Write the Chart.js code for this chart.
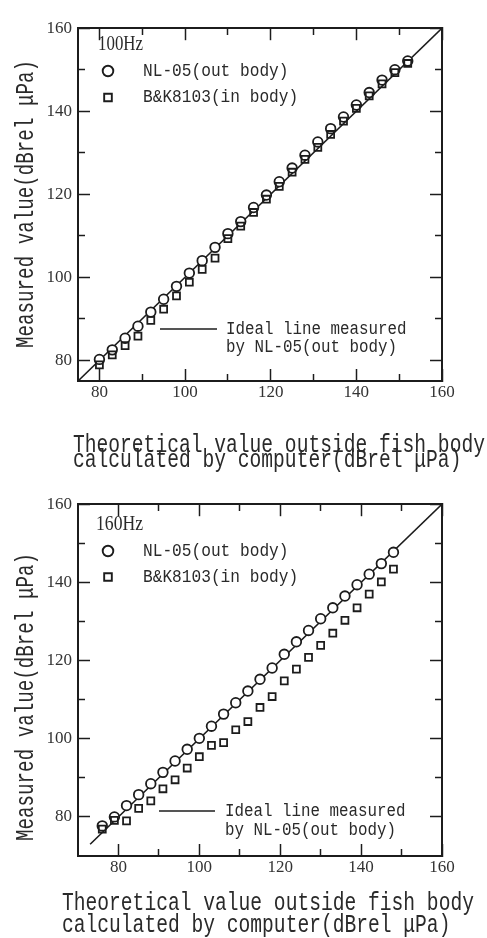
<!DOCTYPE html>
<html><head><meta charset="utf-8">
<script src="https://cdn.jsdelivr.net/npm/chart.js@4/dist/chart.umd.min.js"></script>
<style>
html,body{margin:0;padding:0;background:#fff;}
body{width:487px;height:938px;position:relative;overflow:hidden;}
canvas{position:absolute;left:0;display:block;}
#cA{top:0;}
#cB{top:476px;}
</style></head><body>
<canvas id="cA" width="487" height="476"></canvas>
<canvas id="cB" width="487" height="462"></canvas>
<script>
// ---------------- data ----------------
const xValues100 = [80,83,86,89,92,95,98,101,104,107,110,113,116,119,122,125,128,131,134,137,140,143,146,149,152];
const nl05_100   = [80.2,82.5,85.3,88.2,91.6,94.7,97.8,101.0,104.0,107.2,110.5,113.4,116.8,119.8,123.0,126.3,129.4,132.6,135.8,138.6,141.5,144.5,147.5,150.0,152.1];
const bk8103_100 = [78.9,81.3,83.5,85.8,89.6,92.3,95.5,98.8,101.9,104.6,109.3,112.3,115.6,118.8,121.9,125.3,128.4,131.3,134.4,137.6,140.7,143.7,146.6,149.3,151.5];

const xValues160 = [76,79,82,85,88,91,94,97,100,103,106,109,112,115,118,121,124,127,130,133,136,139,142,145,148];
const nl05_160   = [77.7,80.0,82.9,85.7,88.5,91.4,94.3,97.3,100.1,103.2,106.3,109.2,112.2,115.2,118.1,121.6,124.8,127.7,130.7,133.5,136.5,139.4,142.1,144.8,147.7];
const bk8103_160 = [76.9,79.1,79.0,82.2,84.1,87.2,89.5,92.5,95.4,98.3,99.0,102.3,104.4,108.0,110.8,114.8,117.8,120.8,123.9,127.0,130.3,133.5,137.0,140.1,143.4];

const idealEnds100 = [75,160];
const idealEnds160 = [73,160];
const range100 = [75,160];
const range160 = [70,160];
const majorTicks = [80,100,120,140,160];
const minorTicks = [90,110,130,150];

const seriesNames = ['NL-05(out body)','B&K8103(in body)'];
const idealName = 'Ideal line';
const idealLegendLines = ['Ideal line measured','by NL-05(out body)'];
const xTitleLines = ['Theoretical value outside fish body','calculated by computer(dBrel μPa)'];
const yTitleText = 'Measured value(dBrel μPa)';
const freqLabels = ['100Hz','160Hz'];

// ---------------- styles ----------------
const MONO = '"Liberation Mono","DejaVu Sans Mono",monospace';
const SERIF = '"Liberation Serif","DejaVu Serif",serif';
const INK = '#1c1c1c';
const TEXT_INK = '#2a2a2a';

function squeeze(ctx, text, x, y, size, family, adv){
  ctx.font = size + 'px ' + family;
  ctx.fillText(text, x, y, adv * Array.from(text).length);
}

const figTextPlugin = {
  id: 'figText',
  afterDraw(chart, args, o){
    const ctx = chart.ctx;
    ctx.save();
    ctx.fillStyle = TEXT_INK; ctx.strokeStyle = INK; ctx.textAlign = 'left';
    // frequency label
    ctx.textBaseline = 'middle';
    ctx.font = o.freq.size + 'px ' + SERIF;
    ctx.fillText(o.freq.text, o.freq.x, o.freq.y, o.freq.w);
    // series legend entries
    o.entries.forEach((e, i) => {
      const ds = chart.data.datasets[i];
      ctx.fillStyle = '#fff'; ctx.strokeStyle = INK; ctx.lineWidth = e.border;
      Chart.helpers.drawPoint(ctx, {pointStyle: ds.pointStyle, radius: e.radius, rotation: 0, borderWidth: e.border}, e.mx, e.y);
      ctx.fillStyle = TEXT_INK;
      ctx.textBaseline = 'middle';
      squeeze(ctx, ds.label, e.tx, e.y, o.legendSize, MONO, o.legendAdv);
    });
    // ideal line legend
    const il = o.ideal;
    ctx.beginPath(); ctx.lineWidth = 1.6; ctx.strokeStyle = INK;
    ctx.moveTo(il.x1, il.y); ctx.lineTo(il.x2, il.y); ctx.stroke();
    ctx.textBaseline = 'middle';
    idealLegendLines.forEach((t, k) => squeeze(ctx, t, il.tx, il.ty[k], o.legendSize, MONO, il.adv));
    // x title
    ctx.textBaseline = 'alphabetic';
    xTitleLines.forEach((t, k) => squeeze(ctx, t, o.xTitle.x, o.xTitle.base[k], o.titleSize, MONO, o.titleAdv));
    // y title (rotated)
    ctx.translate(o.yTitle.x, o.yTitle.y);
    ctx.rotate(-Math.PI / 2);
    ctx.font = o.titleSize + 'px ' + MONO;
    ctx.fillText(yTitleText, 0, 0, o.yTitle.len);
    ctx.restore();
  }
};

function buildScales(range, geo){
  const common = {type: 'linear', min: range[0], max: range[1]};
  const tickFont = {family: SERIF, size: 17};
  const setTicks = list => sc => { sc.ticks = list.map(v => ({value: v})); };
  const major = (axis, position, size, labels, pad) => ({
    ...common, axis, position,
    afterBuildTicks: setTicks(majorTicks),
    afterFit: sc => { if (axis === 'x') sc.height = size; else sc.width = size; },
    grid: {display: true, drawOnChartArea: false, drawTicks: true, tickLength: -geo.majorLen, tickColor: INK, tickWidth: 1.5, color: INK},
    border: {display: true, color: INK, width: 2},
    ticks: {display: labels, padding: pad, color: '#333', font: tickFont, maxRotation: 0, autoSkip: false}
  });
  const minor = (axis, position, len) => ({
    ...common, axis, position,
    afterBuildTicks: setTicks(minorTicks),
    afterFit: sc => { if (axis === 'x') sc.height = 0; else sc.width = 0; },
    grid: {display: true, drawOnChartArea: false, drawTicks: true, tickLength: len, tickColor: INK, tickWidth: 1.5, color: INK},
    border: {display: false},
    ticks: {display: false}
  });
  return {
    x: major('x', 'bottom', geo.bottom, true, geo.majorLen + 1),
    y: major('y', 'left', geo.left, true, geo.majorLen + 6),
    xTop: major('x', 'top', geo.top, false, 0),
    yRight: major('y', 'right', geo.right, false, 0),
    xMinB: minor('x', {y: range[0]}, -geo.minorLen),
    xMinT: minor('x', {y: range[1]}, geo.minorLen),
    yMinL: minor('y', {x: range[0]}, -geo.minorLen),
    yMinR: minor('y', {x: range[1]}, geo.minorLen)
  };
}

function makeChart(id, xs, nl, bk, ideal, range, geo, text){
  const pts = (a, b) => a.map((x, i) => ({x, y: b[i]}));
  return new Chart(document.getElementById(id), {
    type: 'scatter',
    data: {datasets: [
      {label: seriesNames[0], data: pts(xs, nl), pointStyle: 'circle', pointRadius: 4.8, pointBorderWidth: 1.8,
       pointBackgroundColor: '#fff', pointBorderColor: INK, order: 2},
      {label: seriesNames[1], data: pts(xs, bk), pointStyle: 'rect', pointRadius: 4.9, pointBorderWidth: 1.8,
       pointBackgroundColor: 'rgba(255,255,255,0)', pointBorderColor: INK, order: 1},
      {label: idealName, data: pts(ideal, ideal), showLine: true, borderColor: INK, borderWidth: 1.6,
       pointRadius: 0, order: 3}
    ]},
    options: {
      responsive: false, animation: false, events: [],
      layout: {padding: 0},
      plugins: {legend: {display: false}, tooltip: {enabled: false}, figText: text},
      scales: buildScales(range, geo)
    },
    plugins: [figTextPlugin]
  });
}

makeChart('cA', xValues100, nl05_100, bk8103_100, idealEnds100, range100,
  {top: 18, bottom: 95, left: 78, right: 45, majorLen: 12, minorLen: 7},
  {
    freq: {text: freqLabels[0], x: 98, y: 45, w: 45, size: 20},
    legendSize: 18.5, legendAdv: 9.7,
    entries: [{mx: 108, tx: 143, y: 71, radius: 5.3, border: 1.9}, {mx: 108, tx: 143, y: 97.5, radius: 5.4, border: 1.9}],
    ideal: {x1: 160, x2: 217, y: 329, tx: 226, ty: [329, 347.5], adv: 9.5},
    titleSize: 25, titleAdv: 11.77,
    xTitle: {x: 73, base: [451.5, 466.5]},
    yTitle: {x: 33, y: 348, len: 288}
  });

makeChart('cB', xValues160, nl05_160, bk8103_160, idealEnds160, range160,
  {top: 18, bottom: 82, left: 78, right: 45, majorLen: 12, minorLen: 7},
  {
    freq: {text: freqLabels[1], x: 96, y: 49, w: 47, size: 20},
    legendSize: 18.5, legendAdv: 9.7,
    entries: [{mx: 108, tx: 143, y: 75, radius: 5.3, border: 1.9}, {mx: 108, tx: 143, y: 101, radius: 5.4, border: 1.9}],
    ideal: {x1: 159, x2: 215, y: 335, tx: 225, ty: [335.5, 354], adv: 9.5},
    titleSize: 25, titleAdv: 11.77,
    xTitle: {x: 62, base: [434, 455.5]},
    yTitle: {x: 33, y: 365, len: 288}
  });
</script>
</body></html>
